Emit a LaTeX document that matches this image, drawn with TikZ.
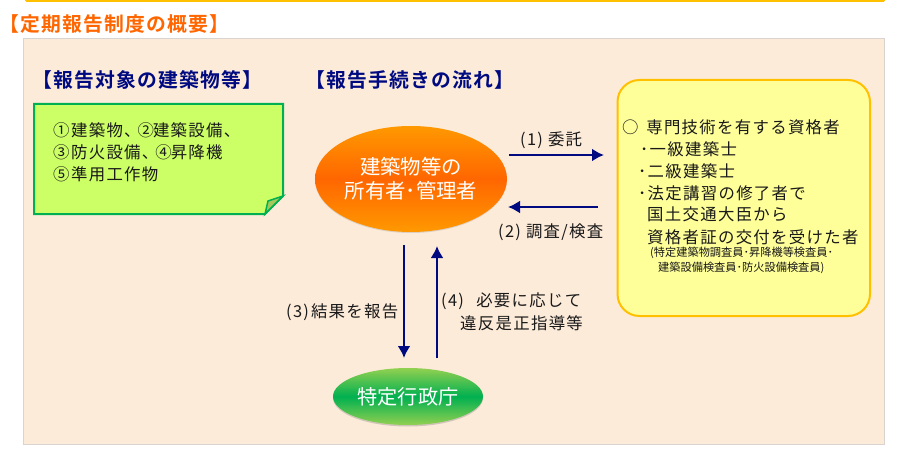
\documentclass[tikz,border=0pt]{standalone}
\usepackage{fontspec}
\setmainfont{Noto Sans CJK JP}
\newfontfamily\bodyjp[LetterSpace=8]{Noto Sans CJK JP}
\newfontfamily\headjp[LetterSpace=6,BoldFont={Noto Sans CJK JP Bold}]{Noto Sans CJK JP}
\usetikzlibrary{arrows.meta,shapes.geometric,shadows}
\definecolor{panelbg}{HTML}{FDEBDA}
\definecolor{panelline}{HTML}{D9D4D0}
\definecolor{strip}{HTML}{FFC000}
\definecolor{titleorange}{HTML}{FF6600}
\definecolor{ownerlight}{HTML}{FF9900}
\definecolor{headblue}{HTML}{000A80}
\definecolor{notefill}{HTML}{CCFF66}
\definecolor{noteline}{HTML}{00B050}
\definecolor{officelight}{HTML}{92D050}
\definecolor{foldfill}{HTML}{A5C85A}
\definecolor{yellowfill}{HTML}{FFFF99}
\definecolor{yellowline}{HTML}{FFC000}
\tikzset{
    label/.style={anchor=west,inner sep=0pt,font=\fontsize{16.4}{18}\bodyjp,text=black!90},
    smalllabel/.style={anchor=west,inner sep=0pt,font=\fontsize{11.2}{12}\selectfont,text=black!90},
    heading/.style={anchor=west,inner sep=0pt,font=\fontsize{19.8}{22}\headjp\bfseries,text=headblue},
    flow/.style={draw=headblue,line width=2.2pt,-{Latex[length=12pt,width=13pt]}},
    actor/.style={ellipse,inner sep=0pt,text=white,align=center},
}
\begin{document}
\begin{tikzpicture}[x=1pt,y=-1pt]
    \useasboundingbox (0,0) rectangle (912,465);
    \fill[white] (0,0) rectangle (912,465);
    \fill[strip,rounded corners=1.5pt] (25,-3) rectangle (885,2);

    \node at (-1,24.5) [heading,text=titleorange] {【定期報告制度の概要】};
    \fill[panelbg,draw=panelline] (23.5,38.5) rectangle (884.5,444);

    \node at (32,80) [heading] {【報告対象の建築物等】};
    \node at (305,80) [heading] {【報告手続きの流れ】};

    % note box
    \draw[line width=2pt,noteline,fill=notefill] (34,104) -- (283,104) -- (283,196) -- (265,214) -- (34,214) -- cycle;
    \draw[line width=1.5pt,noteline,fill=foldfill] (283,196) -- (268,201) -- (265,214) -- cycle;
    \node at (53,130) [label] {①\kern1.5pt 建築物、\kern-3pt ②\kern-1pt 建築設備、};
    \node at (53,152) [label] {③\kern1.5pt 防火設備、\kern-3pt ④\kern-1pt 昇降機};
    \node at (53,174) [label] {⑤\kern1.5pt 準用工作物};

    % qualified persons
    \draw[line width=2pt,yellowline,fill=yellowfill,rounded corners=22pt] (617.5,80) rectangle (870,316);
    \node at (622,127) [label] {○\, 専門技術を有する資格者};
    \node at (640,149) [label] {･一級建築士};
    \node at (638,171) [label] {･二級建築士};
    \node at (638,193) [label] {･法定講習の修了者で};
    \node at (647,214) [label] {国土交通大臣から};
    \node at (647,237) [label] {資格者証の交付を受けた者};
    \node at (650,253) [smalllabel] {(特定建築物調査員･昇降機等検査員･};
    \node at (658,268) [smalllabel] {建築設備検査員･防火設備検査員)};

    % actors
    \node (owner) at (411,179) [actor,minimum width=192pt,minimum height=106pt,
        top color=ownerlight,bottom color=ownerlight,middle color=titleorange,
        font=\fontsize{20.4}{24}\selectfont,drop shadow={opacity=.25,shadow xshift=0pt,shadow yshift=-1pt}]
        {建築物等の\\所有者･管理者};
    \node (office) at (408,396.5) [actor,minimum width=150pt,minimum height=57pt,
        top color=officelight,bottom color=officelight,middle color=noteline,
        font=\fontsize{20.2}{22}\selectfont,drop shadow={opacity=.35,shadow xshift=0pt,shadow yshift=-1.5pt}]
        {特定行政庁};

    % arrows
    \coordinate (a1) at (509,155);
    \coordinate (b1) at (604,155);
    \coordinate (a2) at (598,207);
    \coordinate (b2) at (508,207);
    \coordinate (a3) at (404,245);
    \coordinate (b3) at (404,358);
    \coordinate (a4) at (437,358);
    \coordinate (b4) at (437,246);
    \draw[flow] (a1) -- (b1);
    \draw[flow] (a2) -- (b2);
    \draw[flow] (a3) -- (b3);
    \draw[flow] (a4) -- (b4);

    \node at (520,140) [label] {(1) 委託};
    \node at (498,232) [label] {(2) 調査/検査};
    \node at (286,312) [label] {(3)\kern-3pt\ 結果を報告};
    \node at (441,301) [label] {(4)\;\, 必要に応じて};
    \node at (460,323) [label] {違反是正指導等};
\end{tikzpicture}
\end{document}
